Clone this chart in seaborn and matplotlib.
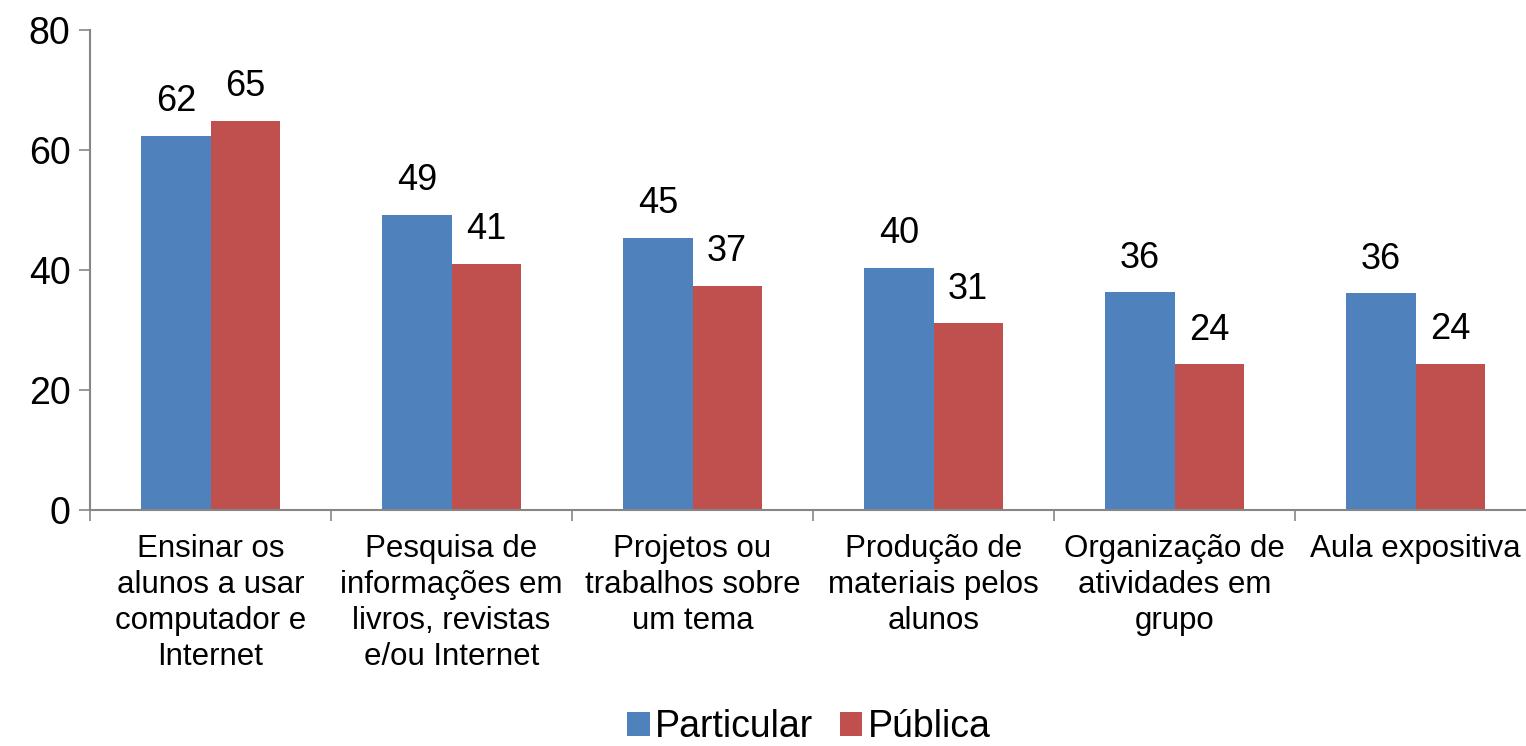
import pandas as pd
import matplotlib
matplotlib.use("Agg")
import matplotlib.pyplot as plt
import seaborn as sns
from matplotlib.ticker import FixedLocator, NullFormatter

## chart data
categories = [
    "Ensinar os\nalunos a usar\ncomputador e\nInternet",
    "Pesquisa de\ninformações em\nlivros, revistas\ne/ou Internet",
    "Projetos ou\ntrabalhos sobre\num tema",
    "Produção de\nmateriais pelos\nalunos",
    "Organização de\natividades em\ngrupo",
    "Aula expositiva",
]
particular = [62.4, 49.2, 45.4, 40.4, 36.3, 36.1]
publica = [64.9, 41.0, 37.4, 31.1, 24.3, 24.4]
series = ["Particular", "Pública"]
y_ticks = [0, 20, 40, 60, 80]

## long table for seaborn
df = pd.DataFrame({
    "categoria": categories * 2,
    "valor": particular + publica,
    "rede": [series[0]] * len(categories) + [series[1]] * len(categories),
})

sns.set_style("white")
plt.rcParams["font.family"] = ["Liberation Sans", "DejaVu Sans"]
plt.rcParams["text.color"] = "black"
plt.rcParams["xtick.color"] = "black"
plt.rcParams["ytick.color"] = "black"

fig = plt.figure(figsize=(15.26, 7.46), dpi=100)
ax = fig.add_axes([90 / 1526, 1 - 510 / 746, 1446 / 1526, 480 / 746])

sns.barplot(data=df, x="categoria", y="valor", hue="rede", order=categories,
            hue_order=series, palette=["#4F81BD", "#C0504D"], width=0.573,
            gap=0, saturation=1, linewidth=0, ax=ax, legend=True)

for cont in ax.containers:
    ax.bar_label(cont, fmt="%.0f", padding=12, fontsize=26, color="black")

ax.set_ylim(0, 80)
ax.set_xlim(-0.5, 5.5)
ax.set_yticks(y_ticks)
ax.tick_params(axis="y", labelsize=27, length=8, width=1.2, color="#868686",
               labelcolor="black", direction="out", left=True, pad=6)

# ticks at the group boundaries, labels at the centres
ax.xaxis.set_major_locator(FixedLocator([i - 0.5 for i in range(len(categories) + 1)]))
ax.xaxis.set_major_formatter(NullFormatter())
ax.xaxis.set_minor_locator(FixedLocator(list(range(len(categories)))))
ax.set_xticklabels(categories, minor=True)
ax.tick_params(axis="x", which="major", length=8, width=1.2, color="#868686",
               direction="out", bottom=True)
ax.tick_params(axis="x", which="minor", length=0, labelsize=22.5, pad=17,
               labelcolor="black")
for lab in ax.get_xticklabels(minor=True):
    lab.set_linespacing(1.27)

ax.set_xlabel("")
ax.set_ylabel("")
for side in ["top", "right"]:
    ax.spines[side].set_visible(False)
for side in ["left", "bottom"]:
    ax.spines[side].set_color("#868686")
    ax.spines[side].set_linewidth(1.5)

ax.legend_.remove()
handles, labels = ax.get_legend_handles_labels()
fig.legend(handles, labels, loc="lower center", bbox_to_anchor=(0.53, -0.044),
           ncol=2, frameon=False, fontsize=27, handlelength=0.6,
           handleheight=0.6, handletextpad=0.15, columnspacing=0.7)

fig.savefig("out.png", dpi=100)
